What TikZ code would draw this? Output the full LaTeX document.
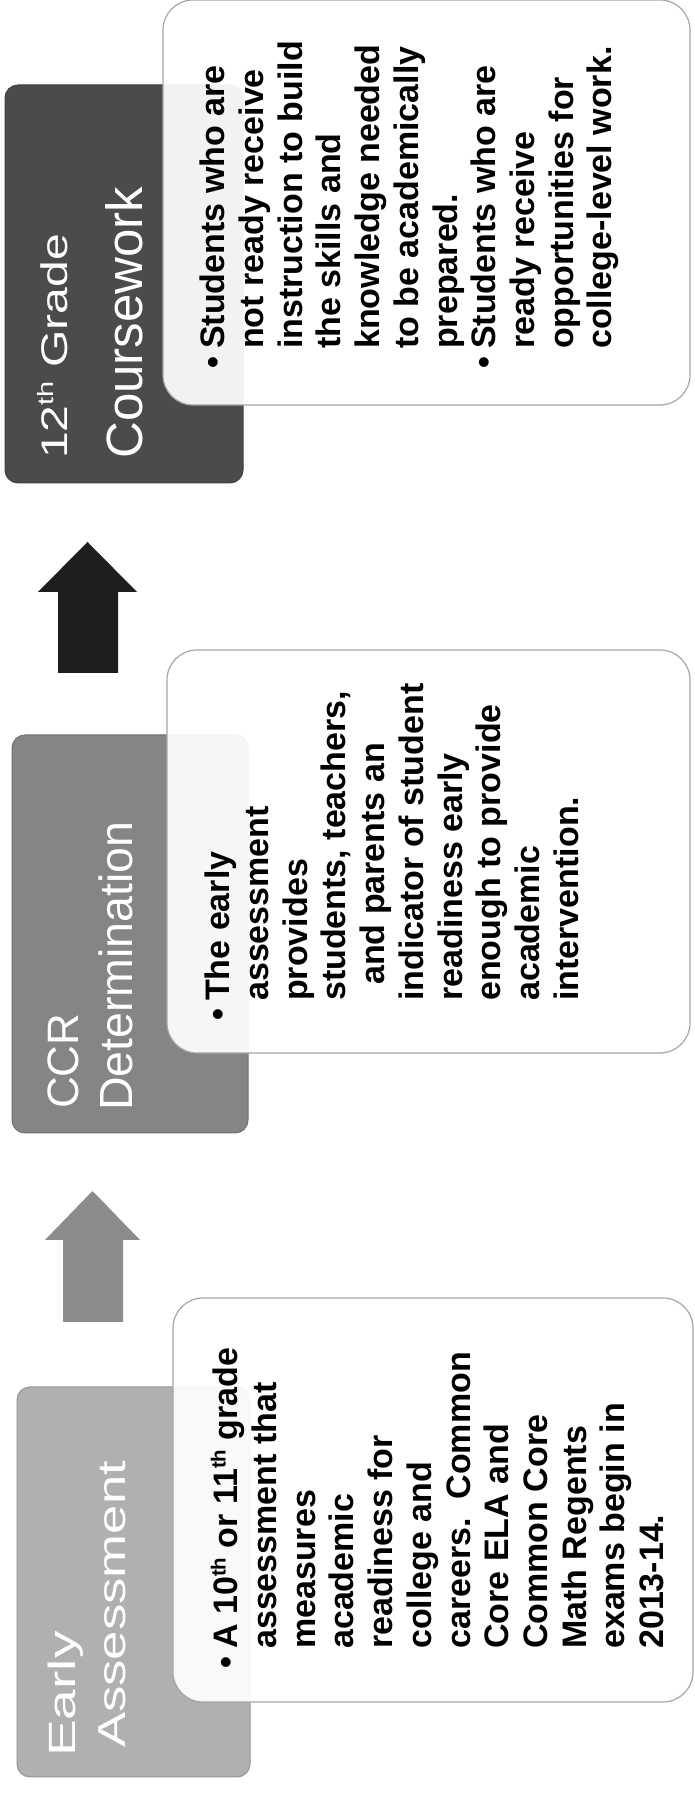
\documentclass[tikz,border=0pt]{standalone}
\usepackage{fontspec}
\setmainfont{Liberation Sans}
\usepackage{graphicx}
\newcommand\bsup[1]{\smash{\raisebox{0.36em}{\scalebox{0.6}{#1}}}}
\newcommand\ind{\hspace*{20pt}}
\newcommand\bul{\makebox[20pt][l]{\textbullet}}
\definecolor{hdarkgray}{HTML}{4B4B4B}
\definecolor{hmidgray}{HTML}{858585}
\definecolor{hlightgray}{HTML}{B0B0B0}
\definecolor{arrdark}{HTML}{1E1E1E}
\definecolor{arrmid}{HTML}{8C8C8C}
\tikzset{
  hdrbox/.style={rounded corners=13pt, line width=1pt},
  wbox/.style={rounded corners=30pt, fill=white, fill opacity=0.93, draw=black!35, line width=1.2pt},
  htext/.style={rotate=90, anchor=base west, inner sep=0pt, text=white},
  btext/.style={rotate=90, anchor=north west, inner sep=0pt, align=left, text=black,
    font=\fontsize{34}{38.7}\selectfont\bfseries},
}
\begin{document}
\begin{tikzpicture}[x=1pt,y=1pt]
\useasboundingbox (0,0) rectangle (694,1797);
\fill[white] (0,0) rectangle (694,1797);

% Early Assessment
\path[hdrbox, fill=hlightgray, draw=hlightgray!85!black] (17,20) rectangle (250,410);
\draw[wbox] (173,95) rectangle (693,499);
\node[htext, font=\fontsize{38}{40}\selectfont] (ea1) at (75,40) {\scalebox{1.45}[1]{Early}};
\node[htext, font=\fontsize{39}{40}\selectfont] (ea2) at (125,49) {\scalebox{1.35}[1]{Assessment}};
\node[btext] (eab) at (213,128) {\bul A 10\bsup{th} or 11\bsup{th} grade\\
\ind assessment that\\
\ind measures\\
\ind academic\\
\ind readiness for\\
\ind college and\\
\ind careers.\ \ Common\\
\ind Core ELA and\\
\ind Common Core\\
\ind Math Regents\\
\ind exams begin in\\
\ind 2013-14.};

% arrow 1
\fill[arrmid] (63,475) -- (63,557) -- (45,557) -- (92.5,606) -- (140,557) -- (123,557) -- (123,475) -- cycle;

% CCR Determination
\path[hdrbox, fill=hmidgray, draw=hmidgray!85!black] (12,664) rectangle (248,1062);
\draw[wbox] (167,744) rectangle (690,1147);
\node[htext, font=\fontsize{44}{50}\selectfont] (ccr1) at (78,688) {CCR};
\node[htext, font=\fontsize{46.5}{52}\selectfont] (ccr2) at (132,686) {Determination};
\node[btext] (ccrb) at (205,776) {\bul The early\\
\ind assessment\\
\ind provides\\
\ind students, teachers,\\
\ind\hspace*{16pt}and parents an\\
\ind indicator of student\\
\ind readiness early\\
\ind enough to provide\\
\ind academic\\
\ind intervention.};

% arrow 2
\fill[arrdark] (58,1124) -- (58,1205) -- (38,1205) -- (87.5,1255) -- (137,1205) -- (118,1205) -- (118,1124) -- cycle;

% 12th Grade Coursework
\path[hdrbox, fill=hdarkgray, draw=hdarkgray!85!black] (5,1314) rectangle (243,1712);
\draw[wbox] (163,1392) rectangle (690,1797);
\node[htext, font=\fontsize{37}{40}\selectfont] (cw1) at (67,1338) {\scalebox{1.3}[1]{12\bsup{th} Grade}};
\node[htext, font=\fontsize{51}{52}\selectfont] (cw2) at (142,1338) {Coursework};
\node[btext] (cwb) at (200,1428) {\bul Students who are\\
\ind not ready receive\\
\ind instruction to build\\
\ind the skills and\\
\ind knowledge needed\\
\ind to be academically\\
\ind prepared.\\
\bul Students who are\\
\ind ready receive\\
\ind opportunities for\\
\ind college-level work.};
\end{tikzpicture}
\end{document}
